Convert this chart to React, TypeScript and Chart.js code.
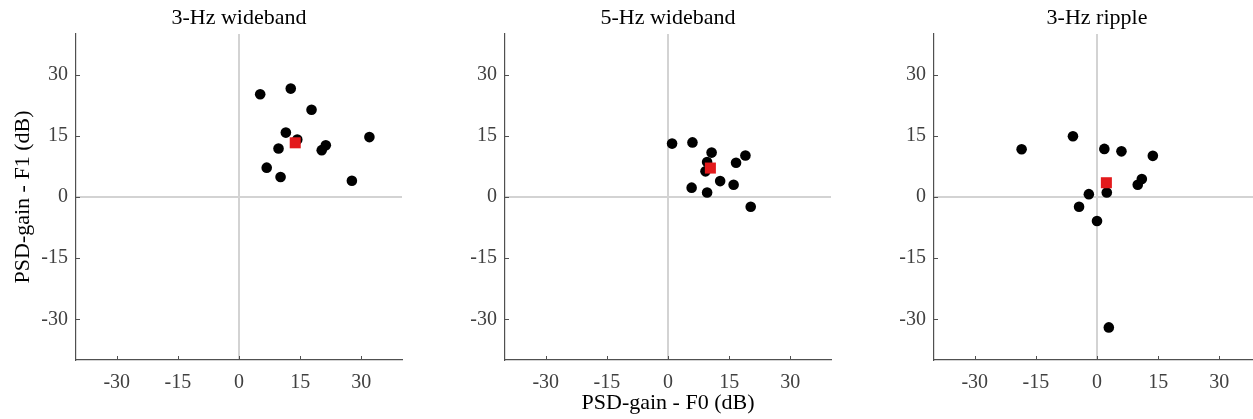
import React, { useEffect, useRef } from 'react';
import { Chart, registerables } from 'chart.js';

Chart.register(...registerables);

// ---- data ----
const xTickValues = [-30, -15, 0, 15, 30];
const yTickValues = [-30, -15, 0, 15, 30];

const wb3Title = '3-Hz wideband';
const wb3X = [5.2, 12.7, 17.8, 11.5, 14.3, 9.7, 21.3, 20.3, 32.0, 6.8, 10.2, 27.7];
const wb3Y = [25.2, 26.6, 21.4, 15.8, 14.1, 11.9, 12.7, 11.5, 14.7, 7.2, 4.9, 4.0];
const wb3Mean = [13.8, 13.3];

const wb5Title = '5-Hz wideband';
const wb5X = [1.0, 6.0, 10.7, 19.0, 9.6, 16.7, 9.2, 12.8, 16.1, 5.8, 9.6, 20.3];
const wb5Y = [13.1, 13.4, 10.9, 10.2, 8.6, 8.4, 6.3, 3.9, 3.0, 2.3, 1.1, -2.4];
const wb5Mean = [10.4, 7.1];

const rp3Title = '3-Hz ripple';
const rp3X = [-18.5, -5.9, 1.8, 6.0, 13.7, 11.0, 10.0, -2.0, 2.4, -4.4, 0.0, 2.9];
const rp3Y = [11.7, 14.9, 11.8, 11.2, 10.1, 4.4, 3.0, 0.7, 1.1, -2.4, -5.9, -32.0];
const rp3Mean = [2.3, 3.5];

const xAxisLabel = 'PSD-gain - F0 (dB)';
const yAxisLabel = 'PSD-gain - F1 (dB)';

// ---- style ----
const FONT = '"Liberation Serif", "Times New Roman", serif';
const AXIS_COLOR = '#505050';
const TICK_TEXT = '#404040';
const ZERO_COLOR = '#d3d3d3';
const RED = '#e31a1c';

const CANVAS_W = 430;
const CANVAS_H = 419;
const AREA_LEFT = 76; // left of chart area inside canvas
const AREA_SIZE = 326;

const decorPlugin = {
  id: 'decor',
  afterDraw(chart: any, _args: any, opts: any) {
    const { ctx, chartArea, scales } = chart;
    const { left, right, top, bottom } = chartArea;
    ctx.save();
    ctx.strokeStyle = AXIS_COLOR;
    ctx.lineWidth = 1;
    ctx.beginPath();
    for (const v of xTickValues) {
      const px = Math.round(scales.x.getPixelForValue(v)) + 0.5;
      ctx.moveTo(px, bottom);
      ctx.lineTo(px, bottom - 4);
    }
    for (const v of yTickValues) {
      const py = Math.round(scales.y.getPixelForValue(v)) + 0.5;
      ctx.moveTo(left, py);
      ctx.lineTo(left + 4, py);
    }
    ctx.stroke();

    ctx.fillStyle = '#000';
    ctx.font = `22px ${FONT}`;
    ctx.textAlign = 'center';
    ctx.textBaseline = 'alphabetic';
    ctx.fillText(opts.title, (left + right) / 2, 24);
    if (opts.xLabel) {
      ctx.fillText(opts.xLabel, (left + right) / 2, 409);
    }
    if (opts.yLabel) {
      ctx.translate(29, (top + bottom) / 2);
      ctx.rotate(-Math.PI / 2);
      ctx.fillText(opts.yLabel, 0, 0);
    }
    ctx.restore();
  },
};

type PanelProps = {
  areaLeft: number;
  title: string;
  xs: number[];
  ys: number[];
  mean: number[];
  xLabel?: string;
  yLabel?: string;
};

function makeScale(values: number[], isX: boolean) {
  return {
    type: 'linear',
    min: -40,
    max: 40,
    afterBuildTicks: (scale: any) => {
      scale.ticks = values.map((v) => ({ value: v }));
    },
    afterFit: (scale: any) => {
      if (isX) scale.height = CANVAS_H - 34 - AREA_SIZE;
      else scale.width = AREA_LEFT;
    },
    grid: {
      drawTicks: false,
      lineWidth: 2,
      color: (ctx: any) => (ctx.tick && ctx.tick.value === 0 ? ZERO_COLOR : 'rgba(0,0,0,0)'),
    },
    border: { display: true, color: AXIS_COLOR, width: 1.2 },
    ticks: {
      color: TICK_TEXT,
      font: { family: FONT, size: 20 },
      padding: isX ? 11 : 8,
      maxRotation: 0,
      autoSkip: false,
      callback: (v: any) => String(v),
    },
  };
}

function Panel({ areaLeft, title, xs, ys, mean, xLabel, yLabel }: PanelProps) {
  const ref = useRef<HTMLCanvasElement | null>(null);
  useEffect(() => {
    if (!ref.current) return;
    const chart = new Chart(ref.current, {
      type: 'scatter',
      data: {
        datasets: [
          {
            label: 'mean',
            data: [{ x: mean[0], y: mean[1] }],
            pointStyle: 'rect',
            pointRadius: 7.8,
            pointBackgroundColor: RED,
            pointBorderWidth: 0,
            backgroundColor: RED,
            borderWidth: 0,
            order: 0,
          },
          {
            label: 'subjects',
            data: xs.map((x, i) => ({ x, y: ys[i] })),
            pointStyle: 'circle',
            pointRadius: 5.3,
            pointBackgroundColor: '#000',
            pointBorderWidth: 0,
            backgroundColor: '#000',
            borderWidth: 0,
            order: 1,
          },
        ],
      },
      options: {
        responsive: false,
        animation: false,
        devicePixelRatio: 1,
        layout: {
          padding: { top: 34, left: 0, right: CANVAS_W - AREA_LEFT - AREA_SIZE, bottom: 0 },
        },
        scales: {
          x: makeScale(xTickValues, true) as any,
          y: makeScale(yTickValues, false) as any,
        },
        plugins: {
          legend: { display: false },
          tooltip: { enabled: false },
          title: { display: false },
          decor: { title, xLabel, yLabel },
        } as any,
      },
      plugins: [decorPlugin],
    });
    return () => chart.destroy();
  }, []);
  return (
    <canvas
      ref={ref}
      width={CANVAS_W}
      height={CANVAS_H}
      style={{ position: 'absolute', left: areaLeft - AREA_LEFT, top: 0, width: CANVAS_W, height: CANVAS_H }}
    />
  );
}

export default function App() {
  return (
    <div
      style={{
        position: 'absolute',
        left: 0,
        top: 0,
        width: 1253,
        height: 419,
        overflow: 'hidden',
        background: '#fff',
      }}
    >
      <Panel areaLeft={76} title={wb3Title} xs={wb3X} ys={wb3Y} mean={wb3Mean} yLabel={yAxisLabel} />
      <Panel areaLeft={505} title={wb5Title} xs={wb5X} ys={wb5Y} mean={wb5Mean} xLabel={xAxisLabel} />
      <Panel areaLeft={934} title={rp3Title} xs={rp3X} ys={rp3Y} mean={rp3Mean} />
    </div>
  );
}
